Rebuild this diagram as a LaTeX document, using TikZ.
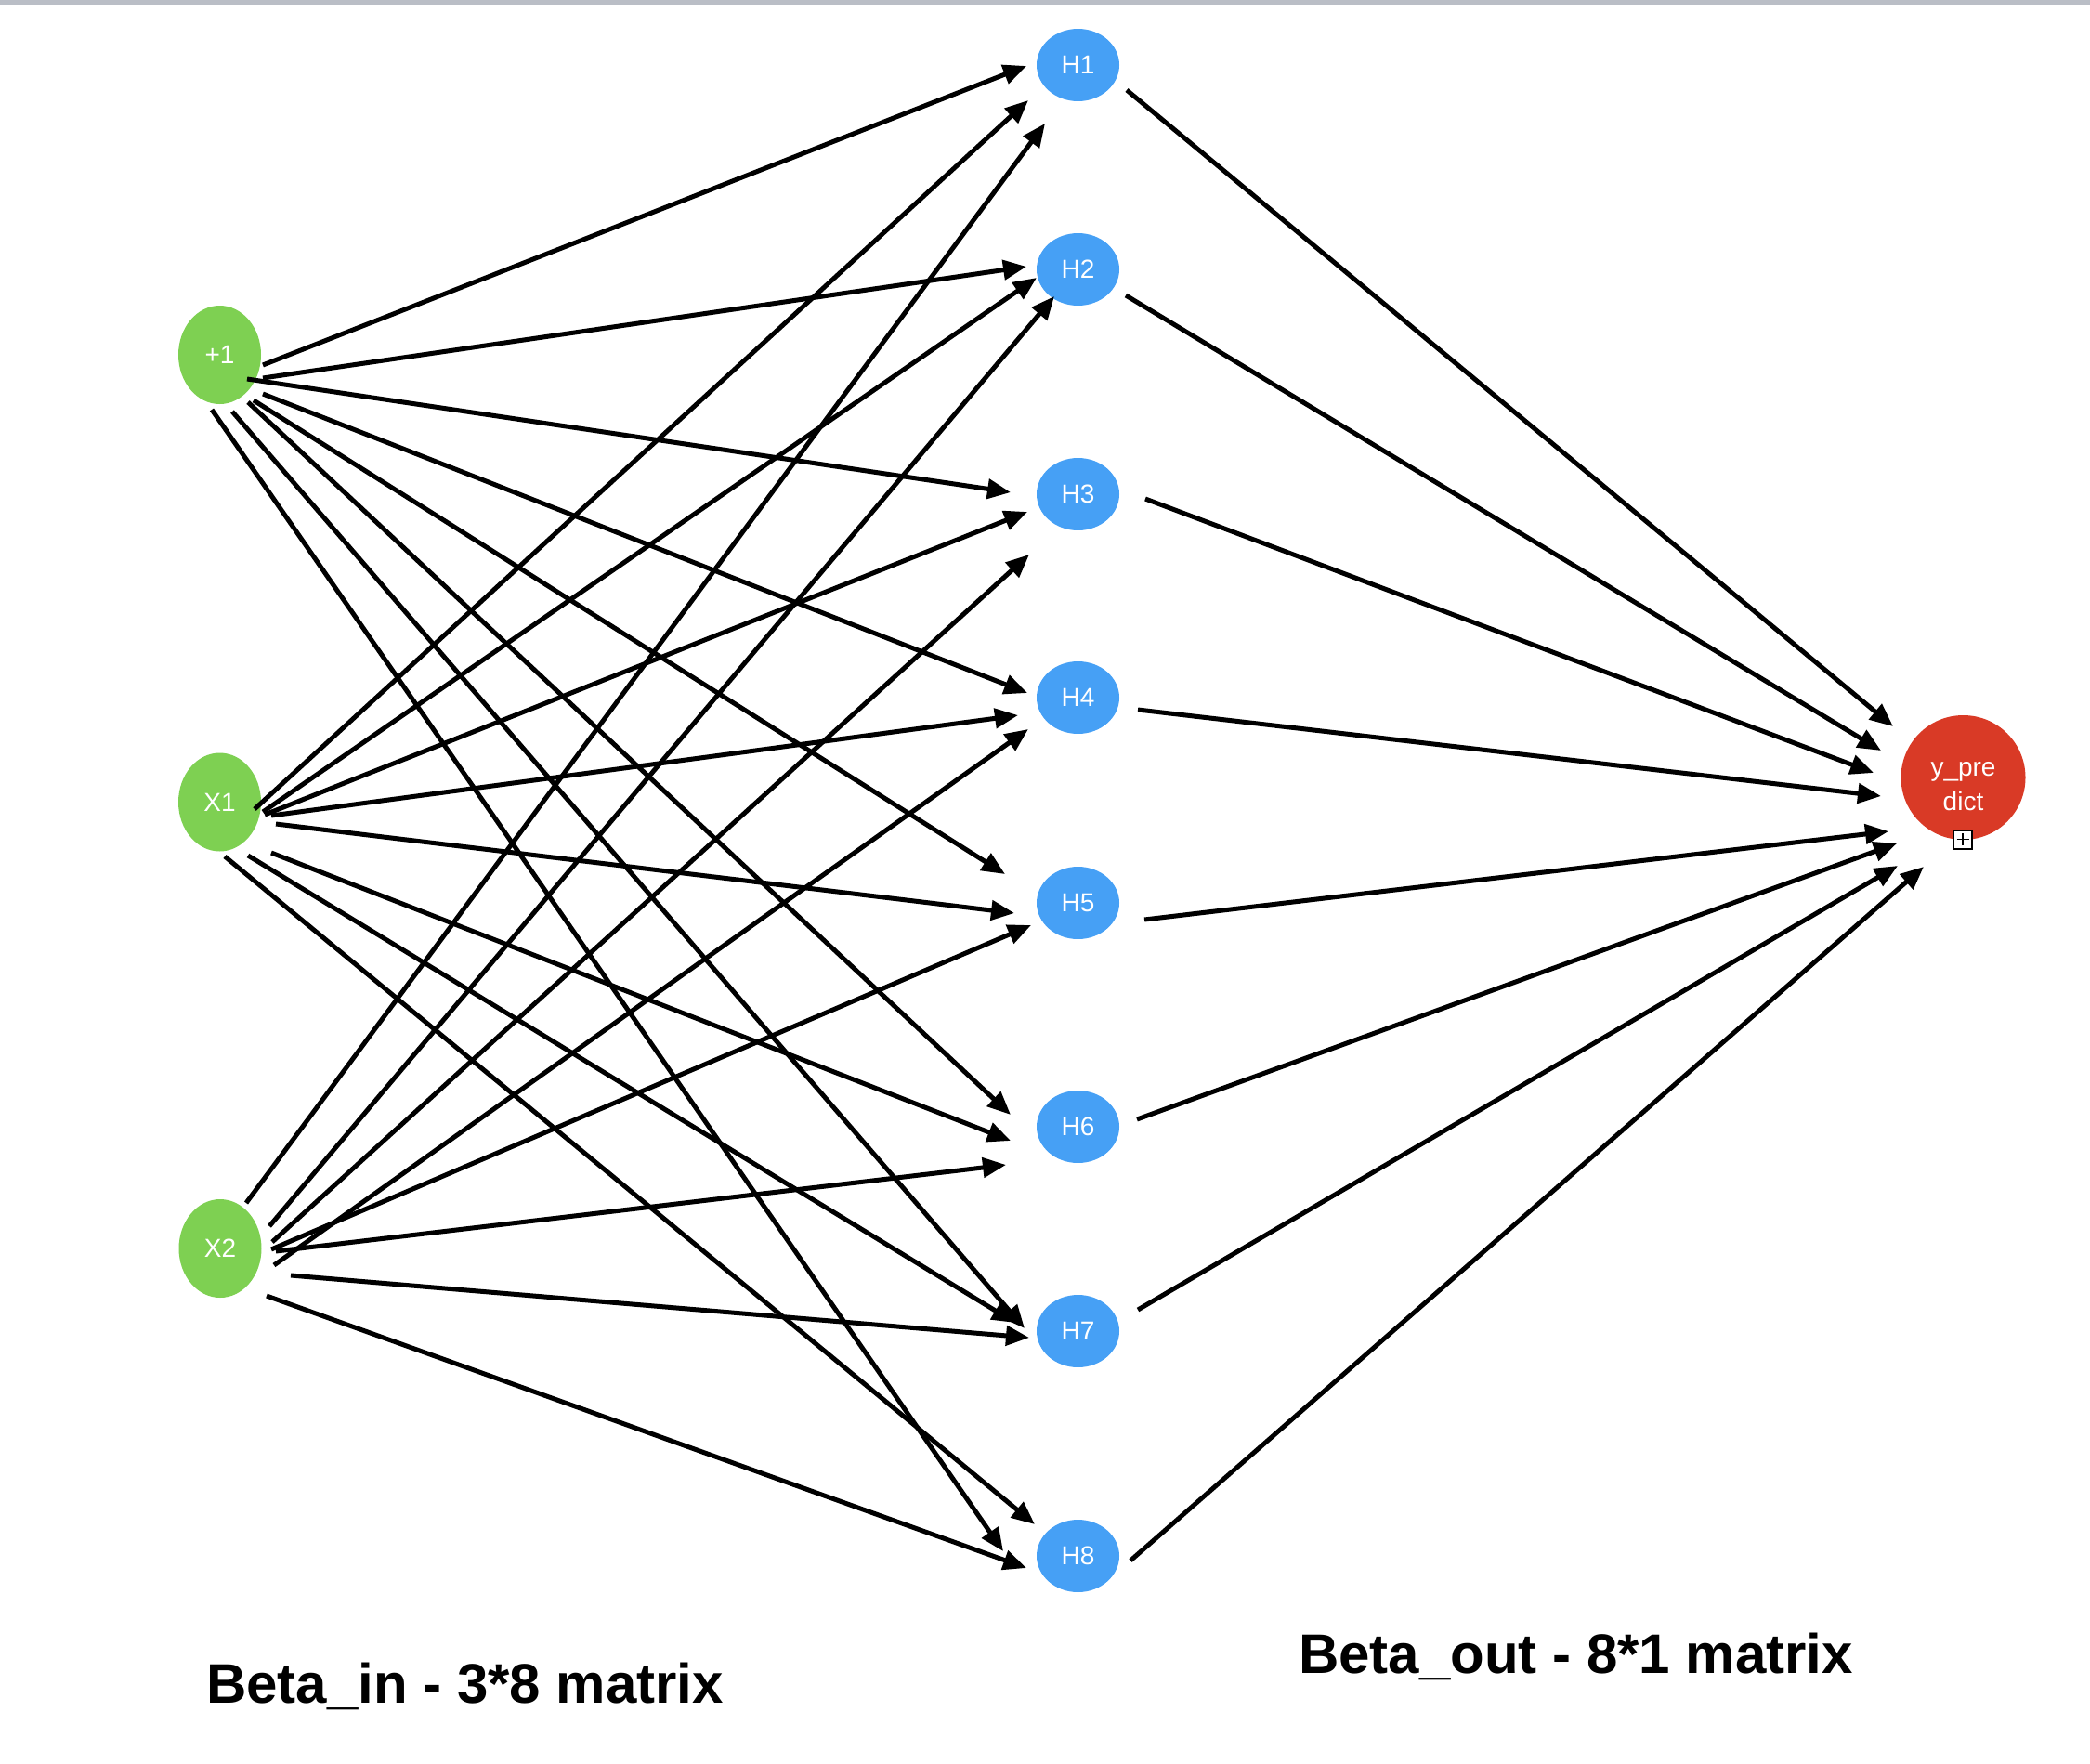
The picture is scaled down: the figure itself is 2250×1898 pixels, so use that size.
\documentclass[tikz,border=0pt]{standalone}
\usepackage{fontspec}
\setmainfont{Liberation Sans}
\usetikzlibrary{arrows.meta,shapes.geometric}
\definecolor{ingreen}{RGB}{126,208,82}
\definecolor{hidblue}{RGB}{70,160,245}
\definecolor{outred}{RGB}{217,58,38}
\definecolor{bargray}{RGB}{186,190,198}
\tikzset{
  arr/.style={line width=5pt,-{Triangle[length=25pt,width=21pt]}},
  innode/.style={ellipse,fill=ingreen,minimum width=89pt,minimum height=106pt,inner sep=0pt,text=white,font=\fontsize{28}{34}\selectfont},
  hidnode/.style={ellipse,fill=hidblue,minimum width=89pt,minimum height=78pt,inner sep=0pt,text=white,font=\fontsize{28}{34}\selectfont},
  outnode/.style={circle,fill=outred,minimum size=134pt,inner sep=0pt},
  caption/.style={anchor=base west,inner sep=0pt,font=\fontsize{60}{70}\selectfont\bfseries}
}
\begin{document}
\begin{tikzpicture}[x=1pt,y=-1pt]
\useasboundingbox (0,0) rectangle (2250,1898);
\fill[bargray] (0,0) rectangle (2250,5);
% nodes
\node[innode] (p1) at (236.5,382) {+1};
\node[innode] (x1) at (236.5,863.5) {X1};
\node[innode] (x2) at (237,1344) {X2};
\node[hidnode] (h1) at (1160.5,70) {H1};
\node[hidnode] (h2) at (1160.5,290) {H2};
\node[hidnode] (h3) at (1160.5,532) {H3};
\node[hidnode] (h4) at (1160.5,751) {H4};
\node[hidnode] (h5) at (1160.5,972) {H5};
\node[hidnode] (h6) at (1160.5,1213) {H6};
\node[hidnode] (h7) at (1160.5,1433) {H7};
\node[hidnode] (h8) at (1160.5,1675) {H8};
\node[outnode] (yp) at (2113.5,837) {};
\node[text=white,align=center,inner sep=0pt,font=\fontsize{28}{37}\selectfont] (yt) at (2113.5,847) {y\_pre\\dict};
\node[draw,line width=2pt,fill=white,minimum size=20pt,inner sep=0pt] (bx) at (2113,903.5) {};
\draw[line width=1.6pt] ([shift={(-6.5,0)}]bx.center) -- ([shift={(6.5,0)}]bx.center);
\draw[line width=1.6pt] ([shift={(0,-6.5)}]bx.center) -- ([shift={(0,6.5)}]bx.center);
% +1 edges
\draw[arr] ([shift={(46.5,11)}]p1.center) -- ([shift={(-55.5,1)}]h1.center);
\draw[arr] ([shift={(46.5,25)}]p1.center) -- ([shift={(-55.5,-3)}]h2.center);
\draw[arr] ([shift={(29.5,26)}]p1.center) -- ([shift={(-72.5,-2)}]h3.center);
\draw[arr] ([shift={(46.5,42)}]p1.center) -- ([shift={(-54.5,-5)}]h4.center);
\draw[arr] ([shift={(36.5,49)}]p1.center) -- ([shift={(-78.5,-31)}]h5.center);
\draw[arr] ([shift={(30.5,51)}]p1.center) -- ([shift={(-72.5,-13)}]h6.center);
\draw[arr] ([shift={(13.5,61)}]p1.center) -- ([shift={(-57.5,-3)}]h7.center);
\draw[arr] ([shift={(-8.5,59)}]p1.center) -- ([shift={(-80.5,-5)}]h8.center);
% X1 edges
\draw[arr] ([shift={(37.5,7.5)}]x1.center) -- ([shift={(-53.5,38)}]h1.center);
\draw[arr] ([shift={(46.5,10.5)}]x1.center) -- ([shift={(-44.5,9)}]h2.center);
\draw[arr] ([shift={(48.5,13.5)}]x1.center) -- ([shift={(-54.5,19)}]h3.center);
\draw[arr] ([shift={(55.5,14.5)}]x1.center) -- ([shift={(-64.5,19)}]h4.center);
\draw[arr] ([shift={(60.5,23.5)}]x1.center) -- ([shift={(-68.5,11)}]h5.center);
\draw[arr] ([shift={(55.5,54.5)}]x1.center) -- ([shift={(-72.5,15)}]h6.center);
\draw[arr] ([shift={(30.5,57.5)}]x1.center) -- ([shift={(-67.5,-9)}]h7.center);
\draw[arr] ([shift={(5.5,58.5)}]x1.center) -- ([shift={(-46.5,-34)}]h8.center);
% X2 edges
\draw[arr] ([shift={(28,-49)}]x2.center) -- ([shift={(-35.5,63)}]h1.center);
\draw[arr] ([shift={(53,-24)}]x2.center) -- ([shift={(-25.5,29)}]h2.center);
\draw[arr] ([shift={(56,-7)}]x2.center) -- ([shift={(-52.5,65)}]h3.center);
\draw[arr] ([shift={(58,18)}]x2.center) -- ([shift={(-53.5,34)}]h4.center);
\draw[arr] ([shift={(55,1)}]x2.center) -- ([shift={(-50.5,24)}]h5.center);
\draw[arr] ([shift={(60,3)}]x2.center) -- ([shift={(-77.5,41)}]h6.center);
\draw[arr] ([shift={(76,29)}]x2.center) -- ([shift={(-52.5,7)}]h7.center);
\draw[arr] ([shift={(50,51)}]x2.center) -- ([shift={(-55.5,13)}]h8.center);
% hidden to output
\draw[arr] ([shift={(52.5,27)}]h1.center) -- ([shift={(-75.5,-55)}]yp.center);
\draw[arr] ([shift={(51.5,28)}]h2.center) -- ([shift={(-88.5,-29)}]yp.center);
\draw[arr] ([shift={(72.5,5)}]h3.center) -- ([shift={(-96.5,-5)}]yp.center);
\draw[arr] ([shift={(64.5,13)}]h4.center) -- ([shift={(-88.5,20)}]yp.center);
\draw[arr] ([shift={(71.5,18)}]h5.center) -- ([shift={(-80.5,58)}]yp.center);
\draw[arr] ([shift={(63.5,-8)}]h6.center) -- ([shift={(-71.5,71)}]yp.center);
\draw[arr] ([shift={(64.5,-23)}]h7.center) -- ([shift={(-70.5,95)}]yp.center);
\draw[arr] ([shift={(56.5,5)}]h8.center) -- ([shift={(-42.5,96)}]yp.center);
% captions
\node[caption] (capin) at (222,1833) {Beta\_in - 3*8 matrix};
\node[caption] (capout) at (1398,1801) {Beta\_out - 8*1 matrix};
\end{tikzpicture}
\end{document}
